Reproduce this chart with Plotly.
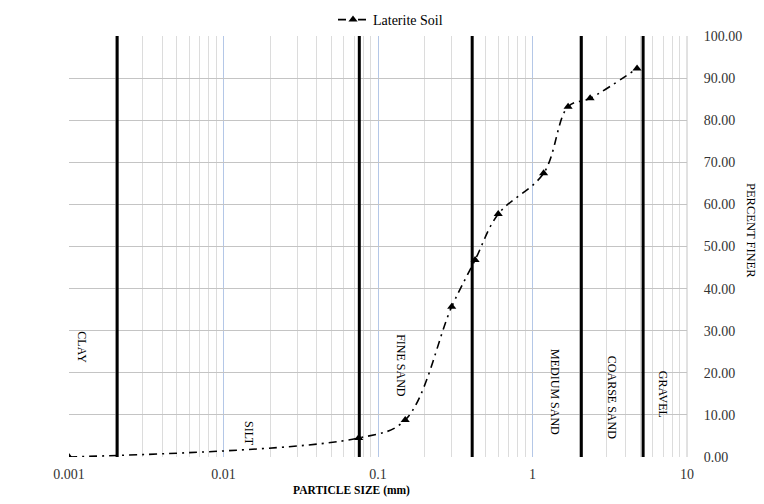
import plotly.graph_objects as go
import math

# ---- data ----
particle_size = [0.001, 0.075, 0.15, 0.3, 0.425, 0.6, 1.18, 1.7, 2.36, 4.75]
percent_finer = [0.0, 4.5, 8.8, 35.7, 46.8, 57.7, 67.4, 83.2, 85.2, 92.3]
boundaries = [0.00205, 0.0757, 0.407, 2.07, 5.2]
zone_labels = ["CLAY", "SILT", "FINE SAND", "MEDIUM SAND", "COARSE SAND", "GRAVEL"]
zone_label_x = [0.00121, 0.0146, 0.1406, 1.40, 3.27, 7.0]
zone_label_y = [26.1, 5.5, 21.6, 15.4, 14.3, 15.0]
x_tickvals = [0.001, 0.01, 0.1, 1, 10]
x_ticktext = ["0.001", "0.01", "0.1", "1", "10"]

SERIF = "Liberation Serif"

fig = go.Figure()

# boundary lines
for b in boundaries:
    fig.add_trace(go.Scatter(
        x=[b, b], y=[0, 100], mode="lines",
        line=dict(color="black", width=3),
        showlegend=False, hoverinfo="skip"))

fig.add_trace(go.Scatter(
    x=particle_size, y=percent_finer, mode="lines+markers",
    name="Laterite Soil",
    line=dict(color="black", width=1.6, dash="8px,5px,2px,5px",
              shape="spline", smoothing=1.0),
    marker=dict(symbol="triangle-up", size=8, color="black"),
))

for t, xv, yv in zip(zone_labels, zone_label_x, zone_label_y):
    fig.add_annotation(x=math.log10(xv), y=yv, xref="x", yref="y",
                       text=t, textangle=90, showarrow=False,
                       xanchor="center", yanchor="middle",
                       font=dict(family=SERIF, size=12, color="black"))

fig.add_annotation(x=(351 - 69) / 618, y=(457 - 490) / 421,
                   xref="paper", yref="paper", text="<b>PARTICLE SIZE (mm)</b>",
                   xanchor="center", yanchor="middle",
                   showarrow=False, font=dict(family=SERIF, size=11.5, color="black"))
fig.add_annotation(x=(751 - 69) / 618, y=(457 - 230) / 421,
                   xref="paper", yref="paper", text="PERCENT FINER",
                   xanchor="center", yanchor="middle",
                   textangle=90, showarrow=False,
                   font=dict(family=SERIF, size=12.5, color="black"))

# page has an 8px body margin: figure is 756x496 placed at (8,8)
fig.update_layout(
    width=756, height=496,
    margin=dict(l=61, r=77, t=28, b=47, autoexpand=False),
    plot_bgcolor="white", paper_bgcolor="white",
    font=dict(family=SERIF, color="black"),
    legend=dict(x=(333 - 69) / 618, y=(457 - 20) / 421, xanchor="left",
                yanchor="middle", orientation="h",
                font=dict(family=SERIF, size=14, color="black"),
                bgcolor="rgba(0,0,0,0)"),
)
fig.update_xaxes(
    type="log", range=[-3, 1], automargin=False,
    tickvals=x_tickvals, ticktext=x_ticktext,
    showgrid=True, gridcolor="#b4c7e7", gridwidth=1,
    minor=dict(showgrid=True, gridcolor="#dcdcdc", gridwidth=1, dtick="D1"),
    ticks="outside", ticklen=4, tickcolor="rgba(0,0,0,0)",
    tickfont=dict(family=SERIF, size=14, color="#333333"),
    zeroline=False, showline=False,
)
fig.update_yaxes(
    range=[0, 100], dtick=10, tickformat=".2f", side="right", automargin=False,
    showgrid=True, gridcolor="#c4c4c4", gridwidth=1,
    ticks="outside", ticklen=13, tickcolor="rgba(0,0,0,0)",
    tickfont=dict(family=SERIF, size=14, color="#333333"),
    zeroline=False, showline=False,
)
# right border line at x=10
fig.add_shape(type="line", xref="paper", yref="paper", x0=1, x1=1, y0=0, y1=1,
              line=dict(color="#c4c4c4", width=1))

fig.write_html("out.html")
